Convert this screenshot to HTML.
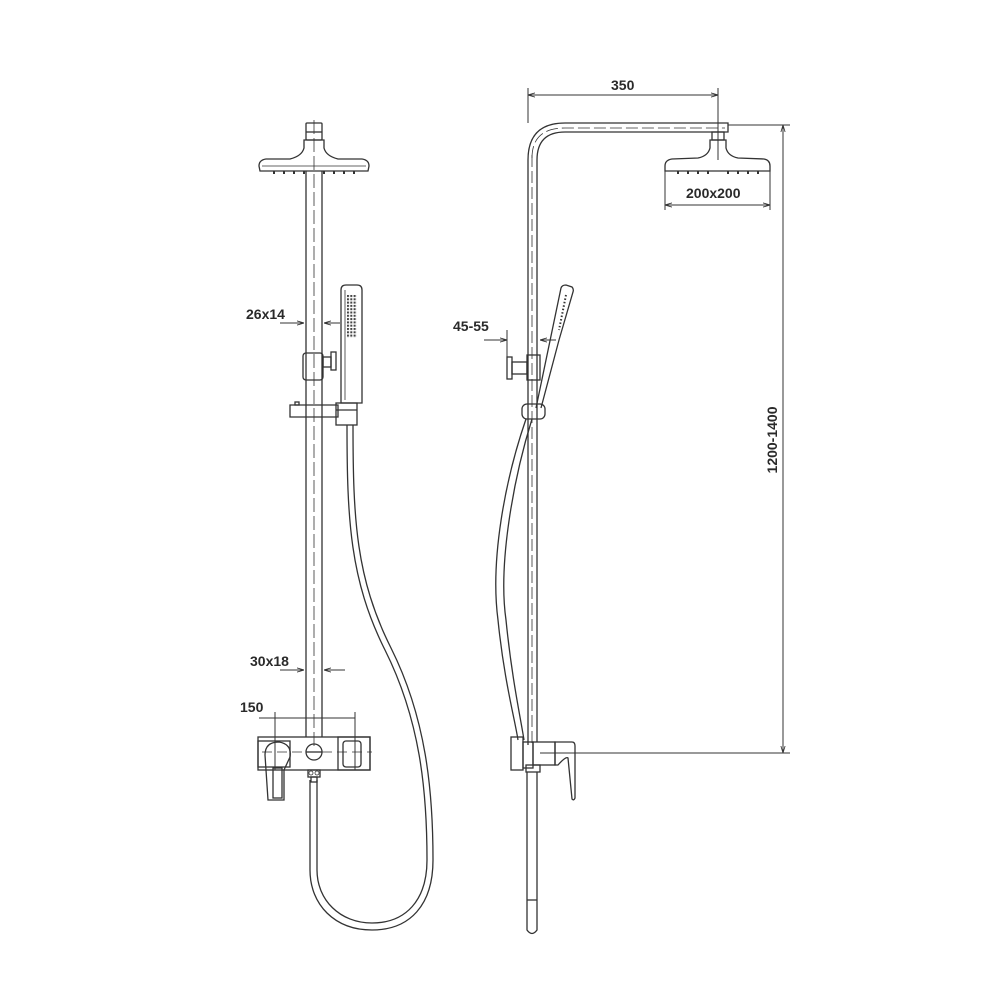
<!DOCTYPE html>
<html><head><meta charset="utf-8"><style>
html,body{margin:0;padding:0;background:#fff;}
svg{display:block}
text{font-family:"Liberation Sans",sans-serif;font-weight:bold;font-size:14px;fill:#2a2a2a}
</style></head><body>
<svg width="1000" height="1000" viewBox="0 0 1000 1000" xmlns="http://www.w3.org/2000/svg">
<defs>
<marker id="ar" viewBox="0 0 10 10" refX="10" refY="5" markerWidth="7" markerHeight="7" orient="auto-start-reverse"><path d="M0,2 L10,5 L0,8" fill="none" stroke="#333" stroke-width="1.2"/></marker>
<pattern id="dots" x="347" y="295" width="3.3" height="3.3" patternUnits="userSpaceOnUse"><rect width="2" height="2" fill="#444"/></pattern>
</defs>
<g fill="none" stroke="#333" stroke-width="1.3">
<!-- LEFT FIGURE -->
<rect x="306" y="123" width="16" height="17" rx="1"/>
<line x1="306" y1="132" x2="322" y2="132"/>
<path d="M304,140 L324,140 L324,148 Q326,156 338,159 L362,159 Q369,160 369,166 L368,171 L260,171 L259,166 Q259,160 266,159 L290,159 Q302,156 304,148 Z"/>
<line x1="262" y1="166" x2="366" y2="166" stroke-width="0.8"/>
<g stroke-width="2"><line x1="274" y1="171" x2="274" y2="174"/><line x1="284" y1="171" x2="284" y2="174"/><line x1="294" y1="171" x2="294" y2="174"/><line x1="304" y1="171" x2="304" y2="174"/><line x1="324" y1="171" x2="324" y2="174"/><line x1="334" y1="171" x2="334" y2="174"/><line x1="344" y1="171" x2="344" y2="174"/><line x1="354" y1="171" x2="354" y2="174"/></g>
<line x1="306" y1="171" x2="306" y2="737"/>
<line x1="322" y1="171" x2="322" y2="737"/>
<line x1="314" y1="120" x2="314" y2="750" stroke-dasharray="14 4" stroke-width="0.8"/>
<path d="M341,403 L341,290 Q341,285 346,285 L357,285 Q362,285 362,290 L362,403 Z"/>
<line x1="345" y1="290" x2="345" y2="400" stroke-width="0.8"/>
<rect x="303" y="353" width="20" height="27" rx="3"/>
<rect x="323" y="357" width="8" height="10"/>
<rect x="331" y="352" width="5" height="18"/>
<path d="M290,405 L290,417 L338,417 L338,405 Z"/>
<rect x="295" y="402" width="4" height="3"/>
<rect x="336" y="403" width="21" height="22"/>
<line x1="336" y1="410" x2="357" y2="410"/>
<!-- hose left -->
<path d="M347,425 C347,520 350,580 385,650 C420,720 427,790 427,860 C427,900 406,923 372,923 C340,923 317,900 317,870 L317,780"/>
<path d="M353,425 C353,520 356,578 391,648 C426,718 433,790 433,860 C433,905 410,930 372,930 C335,930 310,905 310,870 L310,780"/>
<!-- mixer left -->
<rect x="258" y="737" width="112" height="33"/>
<rect x="258" y="741" width="32" height="26"/>
<rect x="338" y="737" width="32" height="33"/>
<rect x="343" y="741" width="18" height="26" rx="3"/>
<circle cx="314" cy="752" r="8"/>
<line x1="306" y1="752" x2="322" y2="752"/>
<line x1="262" y1="752" x2="372" y2="752" stroke-dasharray="10 5" stroke-width="0.8"/>
<rect x="308" y="770" width="12" height="7"/>
<circle cx="311" cy="773" r="2" stroke-width="0.8"/><circle cx="317" cy="773" r="2" stroke-width="0.8"/>
<rect x="311" y="777" width="6" height="5"/>
<path d="M268,800 L265,755 Q265,742 279,742 Q292,744 290,757 L284,770 L284,800 Z"/>
<rect x="273" y="768" width="9" height="30"/>
<line x1="280" y1="323" x2="304" y2="323" marker-end="url(#ar)" stroke-width="1"/>
<line x1="340" y1="323" x2="324" y2="323" marker-end="url(#ar)" stroke-width="1"/>
<line x1="280" y1="670" x2="304" y2="670" marker-end="url(#ar)" stroke-width="1"/>
<line x1="345" y1="670" x2="324" y2="670" marker-end="url(#ar)" stroke-width="1"/>
<line x1="259" y1="718" x2="355" y2="718" stroke-width="1"/>
<line x1="275" y1="712" x2="275" y2="770" stroke-width="1"/>
<line x1="355" y1="712" x2="355" y2="770" stroke-width="1"/>

<!-- RIGHT FIGURE -->
<path d="M528,745 L528,160 Q528,123 565,123 L728,123 L728,132 L565,132 Q537,132 537,160 L537,742"/>
<line x1="532" y1="155" x2="532" y2="745" stroke-dasharray="12 4" stroke-width="0.8"/>
<path d="M532,158 Q532,128 565,128 L725,128" stroke-dasharray="12 4" stroke-width="0.8"/>
<rect x="712" y="132" width="12" height="8"/>
<path d="M710,140 L726,140 L726,148 Q728,156 738,158 L764,159 Q770,160 770,166 L770,171 L665,171 L665,166 Q665,160 672,159 L698,158 Q708,156 710,148 Z"/>
<g stroke-width="2"><line x1="678" y1="171" x2="678" y2="174"/><line x1="688" y1="171" x2="688" y2="174"/><line x1="698" y1="171" x2="698" y2="174"/><line x1="708" y1="171" x2="708" y2="174"/><line x1="728" y1="171" x2="728" y2="174"/><line x1="738" y1="171" x2="738" y2="174"/><line x1="748" y1="171" x2="748" y2="174"/><line x1="758" y1="171" x2="758" y2="174"/></g>
<line x1="718" y1="88" x2="718" y2="160" stroke-width="1"/>
<rect x="507" y="357" width="5" height="22"/>
<rect x="512" y="362" width="15" height="12"/>
<rect x="527" y="355" width="13" height="25"/>
<path d="M561,288 Q562,285 566,285 L572,287 Q574,289 573,292 L559,340 L541,408 M561,288 L536,408"/>
<path d="M566,295 L559,330" stroke-dasharray="1.5 2" stroke-width="2"/>
<rect x="522" y="404" width="23" height="15" rx="5"/>
<!-- hose right -->
<path d="M526,419 C505,480 490,560 498,620 C504,680 515,720 518,740"/>
<path d="M532,419 C513,480 498,565 506,620 C512,680 521,720 524,740"/>
<rect x="511" y="737" width="12" height="33"/>
<rect x="523" y="742" width="10" height="26"/>
<rect x="533" y="742" width="22" height="23"/>
<path d="M555,742 L572,742 Q575,742 575,746 L575,798 Q574,801 572,799 L568,758 Q566,756 558,765 L555,765 Z"/>
<rect x="526" y="765" width="14" height="7"/>
<path d="M527,772 L527,930 Q532,937 537,930 L537,772"/>
<line x1="527" y1="900" x2="537" y2="900"/>
<line x1="540" y1="753" x2="790" y2="753" stroke-width="1"/>
<line x1="528" y1="88" x2="528" y2="123" stroke-width="1"/>
<line x1="528" y1="95" x2="718" y2="95" stroke-width="1" marker-start="url(#ar)" marker-end="url(#ar)"/>
<line x1="665" y1="171" x2="665" y2="210" stroke-width="1"/>
<line x1="770" y1="171" x2="770" y2="210" stroke-width="1"/>
<line x1="665" y1="205" x2="770" y2="205" stroke-width="1" marker-start="url(#ar)" marker-end="url(#ar)"/>
<line x1="728" y1="125" x2="790" y2="125" stroke-width="1"/>
<line x1="783" y1="125" x2="783" y2="753" stroke-width="1" marker-start="url(#ar)" marker-end="url(#ar)"/>
<line x1="484" y1="340" x2="507" y2="340" stroke-width="1" marker-end="url(#ar)"/>
<line x1="507" y1="330" x2="507" y2="357" stroke-width="1"/>
<line x1="556" y1="340" x2="540" y2="340" stroke-width="1" marker-end="url(#ar)"/>
</g>
<rect x="347" y="295" width="10" height="43" fill="url(#dots)"/>
<text x="246" y="319">26x14</text>
<text x="250" y="666">30x18</text>
<text x="240" y="712">150</text>
<text x="453" y="331">45-55</text>
<text x="611" y="90">350</text>
<text x="686" y="198">200x200</text>
<text x="0" y="0" transform="translate(777,440) rotate(-90)" text-anchor="middle">1200-1400</text>
</svg>
</body></html>
